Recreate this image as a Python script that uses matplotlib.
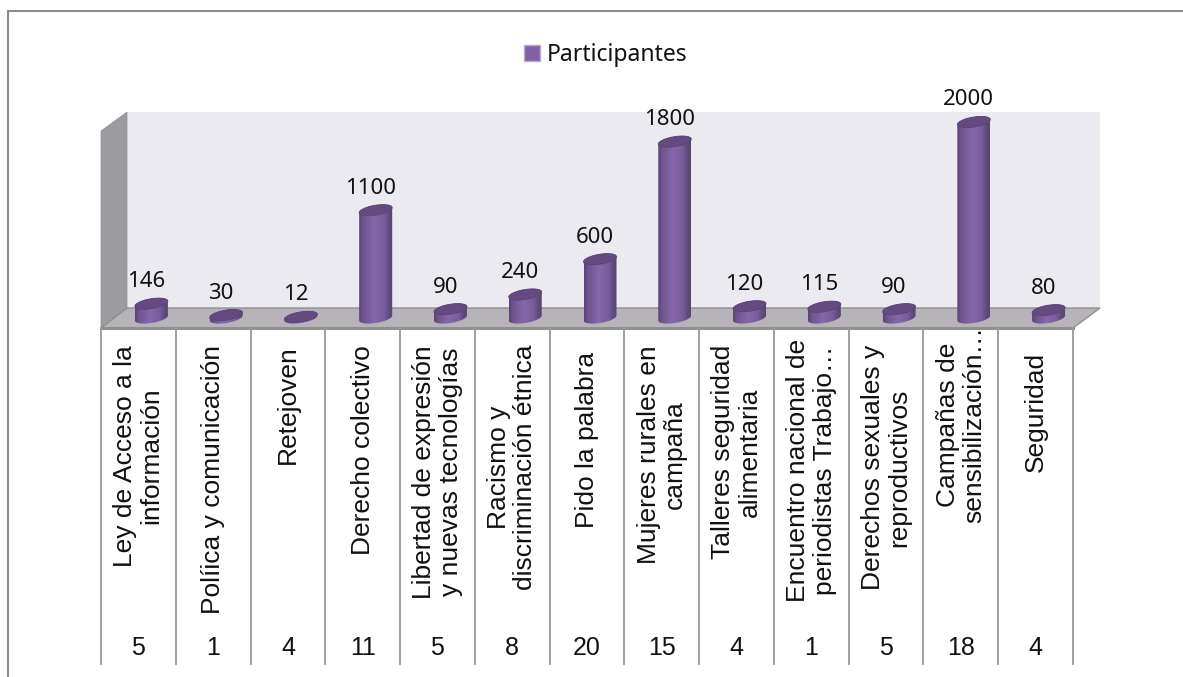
"""
Participantes por actividad: 3D-looking cylinder chart with a data table below.
"""

import numpy as np
import matplotlib
matplotlib.use("Agg")
import matplotlib.pyplot as plt
import matplotlib.patches as mpatches
from matplotlib.colors import LinearSegmentedColormap

categories = [
    "Ley de Acceso a la\ninformación",
    "Políica y comunicación",
    "Retejoven",
    "Derecho colectivo",
    "Libertad de expresión\ny nuevas tecnologías",
    "Racismo y\ndiscriminación étnica",
    "Pido la palabra",
    "Mujeres rurales en\ncampaña",
    "Talleres seguridad\nalimentaria",
    "Encuentro nacional de\nperiodistas Trabajo…",
    "Derechos sexuales y\nreproductivos",
    "Campañas de\nsensibilización…",
    "Seguridad",
]
participantes = [146, 30, 12, 1100, 90, 240, 600, 1800, 120, 115, 90, 2000, 80]
actividades = [5, 1, 4, 11, 5, 8, 20, 15, 4, 1, 5, 18, 4]

W, H = 1183, 677
# plot box in pixels
FRONT_L, FRONT_R = 101, 1073
BACK_L, BACK_R = 127, 1100
FLOOR_FRONT, FLOOR_BACK = 328, 308
WALL_TOP = 112
BASE_Y, TOP_Y = 318, 122
TABLE_BOTTOM = 664
PAD = 20  # room around the value range so the cylinder ends are not cut

fig = plt.figure(figsize=(W / 100, H / 100), dpi=100, facecolor="white")

# Background layer in pixel coordinates
bg = fig.add_axes([0, 0, 1, 1])
bg.set_xlim(0, W)
bg.set_ylim(H, 0)
bg.axis("off")

# outer frame (only top and left are visible)
bg.plot([8, W], [11, 11], color="#8c8c8c", lw=1.5)
bg.plot([8, 8], [11, 677], color="#8c8c8c", lw=1.5)

# walls and floor
bg.add_patch(mpatches.Rectangle((BACK_L, WALL_TOP), BACK_R - BACK_L, FLOOR_BACK - WALL_TOP,
                                fc="#ECEAF1", ec="none"))
bg.add_patch(mpatches.Polygon([(FRONT_L, 131), (BACK_L, WALL_TOP), (BACK_L, FLOOR_BACK), (FRONT_L, FLOOR_FRONT)],
                              fc="#9C9BA0", ec="#8f8f8f", lw=0.5))
bg.add_patch(mpatches.Polygon([(FRONT_L, FLOOR_FRONT), (BACK_L, FLOOR_BACK), (BACK_R, FLOOR_BACK), (FRONT_R, FLOOR_FRONT)],
                              fc="#B8B3B9", ec="#8f8f8f", lw=1))
bg.plot([FRONT_L, FRONT_R], [FLOOR_FRONT, FLOOR_FRONT], color="#8f8f8f", lw=2.2)

# table under the chart
col_w = (FRONT_R - FRONT_L) / len(categories)
for i in range(len(categories) + 1):
    x = FRONT_L + i * col_w
    bg.plot([x, x], [FLOOR_FRONT, TABLE_BOTTOM], color="#999999", lw=1.3)

# a few labels sit lower or higher than the rest
label_top = {6: 352, 12: 352, 9: 339, 11: 326}
for i, (cat, n) in enumerate(zip(categories, actividades)):
    cx = FRONT_L + (i + 0.5) * col_w
    bg.text(cx, label_top.get(i, 345), cat, rotation=90, ha="center", va="top",
            multialignment="center", family="Liberation Sans", fontsize=19,
            linespacing=1.13, color="#111111")
    bg.text(cx, 648, str(n), ha="center", va="center",
            family="Liberation Sans", fontsize=18, color="#111111")

# Bars layer with a real value scale
ax = fig.add_axes([114 / W, (H - BASE_Y - PAD) / H, 972 / W, (BASE_Y - TOP_Y + 2 * PAD) / H])
ax.patch.set_alpha(0)
ax.axis("off")

side_cmap = LinearSegmentedColormap.from_list("cyl", [
    (0.0, "#574370"), (0.12, "#6f5590"), (0.45, "#8766AB"),
    (0.75, "#785C9C"), (0.9, "#5F4A7C"), (1.0, "#574570"),
])
gradient = np.linspace(0, 1, 128).reshape(1, -1)

# cylinder sizes in pixels, converted to data units
px_x = 1 / col_w
px_y = 2000 / (BASE_Y - TOP_Y)
a = 16.5 * px_x
b = 5 * px_y
tilt = 2.5 * px_y


def ellipse_arc(cx, y, t0, t1):
    t = np.linspace(t0, t1, 40)
    return np.column_stack([cx + a * np.cos(t), y + b * np.sin(t) + tilt * np.cos(t)])


for i, v in enumerate(participantes):
    outline = np.vstack([ellipse_arc(i, 0, np.pi, 2 * np.pi), ellipse_arc(i, v, 0, np.pi)])
    clip = mpatches.Polygon(outline, closed=True, transform=ax.transData, fc="none", ec="none")
    ax.add_patch(clip)
    img = ax.imshow(gradient, cmap=side_cmap, aspect="auto", zorder=3,
                    extent=(i - a, i + a, -b * 2, v + b * 2))
    img.set_clip_path(clip)
    ax.add_patch(mpatches.Polygon(ellipse_arc(i, v, 0, 2 * np.pi), closed=True,
                                  fc="#654A80", ec="#5a4474", lw=0.6, zorder=4))
    ax.annotate(str(v), (i, v), xytext=(-5, 22), textcoords="offset pixels",
                ha="center", va="center", family="Noto Sans", fontsize=16,
                color="#111111", zorder=5, annotation_clip=False)

ax.set_xlim(-0.5, len(categories) - 0.5)
ax.set_ylim(-PAD * px_y, 2000 + PAD * px_y)

handle = mpatches.Patch(fc="#8062A3", ec="#B9A9CC", lw=1, label="Participantes")
leg = fig.legend(handles=[handle], loc="center", bbox_to_anchor=(606 / W, 1 - 55 / H),
                 frameon=False, prop={"family": "Noto Sans", "size": 16.5},
                 handlelength=0.7, handleheight=0.7, handletextpad=0.3)
for text in leg.get_texts():
    text.set_color("#111111")

plt.savefig("out.png", dpi=100)
